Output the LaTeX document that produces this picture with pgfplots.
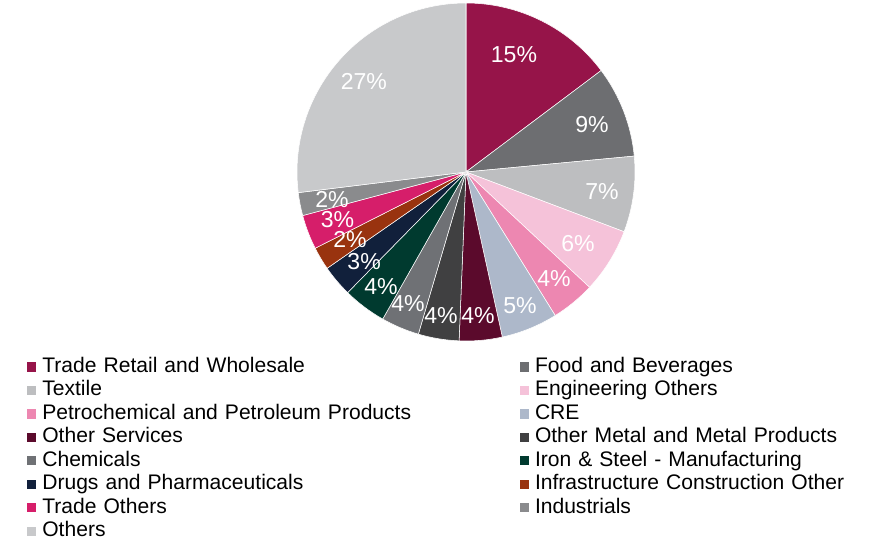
\documentclass[border=0pt]{standalone}
\usepackage{pgfplots}
\usepackage{pgfplotstable}
\pgfplotsset{compat=1.18}
\usepackage{fontspec}
\setmainfont{Liberation Sans}

\definecolor{c1}{HTML}{961449}
\definecolor{c2}{HTML}{6D6E71}
\definecolor{c3}{HTML}{BDBEC0}
\definecolor{c4}{HTML}{F5C2D9}
\definecolor{c5}{HTML}{ED87B1}
\definecolor{c6}{HTML}{ADB8CA}
\definecolor{c7}{HTML}{5B0A2C}
\definecolor{c8}{HTML}{404041}
\definecolor{c9}{HTML}{6F7175}
\definecolor{c10}{HTML}{003A2F}
\definecolor{c11}{HTML}{11203B}
\definecolor{c12}{HTML}{99330F}
\definecolor{c13}{HTML}{D61E6A}
\definecolor{c14}{HTML}{8A8B8D}
\definecolor{c15}{HTML}{C8C9CB}

% share (%), label position (axis units), label text
\pgfplotstableread{
value lx ly lab
14.75 0.284 0.692 15
8.75 0.746 0.278 9
7.25 0.805 -0.118 7
6.20 0.663 -0.426 6
4.20 0.521 -0.633 4
5.40 0.320 -0.793 5
4.10 0.071 -0.852 4
3.90 -0.148 -0.852 4
3.65 -0.343 -0.781 4
4.15 -0.503 -0.675 4
3.00 -0.603 -0.530 3
2.20 -0.686 -0.400 2
3.30 -0.760 -0.282 3
2.20 -0.793 -0.160 2
26.95 -0.604 0.533 27
}\pietable

\tikzset{pielab/.style={text=white, inner sep=0pt, font=\fontsize{17.3pt}{20pt}\selectfont}}

\begin{document}
\begin{tikzpicture}
\begin{axis}[
  hide axis,
  x=126.75pt, y=126.75pt,
  xmin=-2.7574, xmax=2.4320, ymin=-2.1775, ymax=1.0178,
  clip=false,
  legend columns=2,
  legend cell align=left,
  legend image code/.code={\fill[#1, draw=none] (0pt,-2.7pt) rectangle (7pt,4.3pt);},
  legend style={
    at={(axis cs:-2.5976,-1.0905)}, anchor=north west,
    draw=none, fill=none, inner sep=0pt, outer sep=0pt,
    row sep=0pt, column sep=0pt,
    font=\fontsize{15.8pt}{17.6pt}\selectfont,
    nodes={inner sep=0pt, outer sep=0pt, text height=12pt, text depth=5.6pt, text width=358pt, align=left},
    /tikz/every odd column/.append style={column sep=4.5pt},
  },
]
\def\cum{0}
\pgfplotsforeachungrouped \i in {0,...,14}{%
  \pgfplotstablegetelem{\i}{value}\of\pietable \let\v\pgfplotsretval
  \pgfmathsetmacro{\aS}{90-3.6*\cum}%
  \pgfmathsetmacro{\aE}{90-3.6*(\cum+\v)}%
  \pgfmathsetmacro{\cum}{\cum+\v}%
  \pgfmathtruncatemacro{\k}{\i+1}%
  \edef\cmd{\noexpand\fill[c\k, draw=white, line width=0.4pt] (axis cs:0,0) -- (axis cs:{cos(\aS)},{sin(\aS)}) arc[start angle=\aS, end angle=\aE, radius=126.75pt] -- cycle;}%
  \cmd
}
\pgfplotsforeachungrouped \i in {0,...,14}{%
  \pgfplotstablegetelem{\i}{lx}\of\pietable \let\lx\pgfplotsretval
  \pgfplotstablegetelem{\i}{ly}\of\pietable \let\ly\pgfplotsretval
  \pgfplotstablegetelem{\i}{lab}\of\pietable \let\lab\pgfplotsretval
  \edef\cmd{\noexpand\node[pielab] at (axis cs:\lx,\ly) {\lab\noexpand\%};}%
  \cmd
}
\addlegendimage{fill=c1}\addlegendentry{Trade Retail and Wholesale}
\addlegendimage{fill=c2}\addlegendentry{Food and Beverages}
\addlegendimage{fill=c3}\addlegendentry{Textile}
\addlegendimage{fill=c4}\addlegendentry{Engineering Others}
\addlegendimage{fill=c5}\addlegendentry{Petrochemical and Petroleum Products}
\addlegendimage{fill=c6}\addlegendentry{CRE}
\addlegendimage{fill=c7}\addlegendentry{Other Services}
\addlegendimage{fill=c8}\addlegendentry{Other Metal and Metal Products}
\addlegendimage{fill=c9}\addlegendentry{Chemicals}
\addlegendimage{fill=c10}\addlegendentry{Iron \& Steel - Manufacturing}
\addlegendimage{fill=c11}\addlegendentry{Drugs and Pharmaceuticals}
\addlegendimage{fill=c12}\addlegendentry{Infrastructure Construction Other}
\addlegendimage{fill=c13}\addlegendentry{Trade Others}
\addlegendimage{fill=c14}\addlegendentry{Industrials}
\addlegendimage{fill=c15}\addlegendentry{Others}
\end{axis}
\pgfresetboundingbox
\path (current axis.south west) rectangle (current axis.north east);
\end{tikzpicture}
\end{document}
